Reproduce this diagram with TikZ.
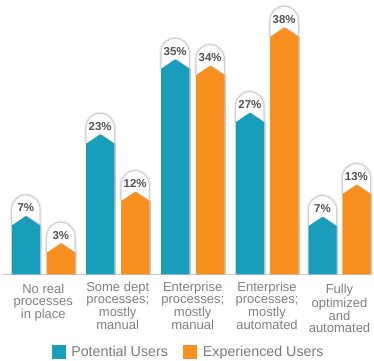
\documentclass[tikz,border=0pt]{standalone}
\usepackage{fontspec}
\setmainfont{Liberation Sans}
\definecolor{potential}{RGB}{24,158,187}
\definecolor{experienced}{RGB}{247,144,30}
\tikzset{
	catlabel/.style={anchor=north, align=center, inner sep=0pt, text=black!50, font=\fontsize{9.75}{8.75}\selectfont},
	pctlabel/.style={inner sep=0pt, text=black!68, font=\fontsize{8.6}{10}\selectfont\bfseries},
	legendtext/.style={anchor=base west, inner sep=0pt, text=black!52, font=\fontsize{10.7}{12}\selectfont},
	bubble/.style={fill=white, draw=black!18, line width=0.8pt},
}
\begin{document}
\begin{tikzpicture}[x=0.75pt,y=0.75pt]
	\useasboundingbox (0,0) rectangle (374,360);
	\draw[black!22, line width=0.75pt] (3,85.7) -- (372,85.7);
	\foreach \bx/\bh/\bv/\bc [count=\n] in {11.7/58.3/7/potential, 46.7/31/3/experienced, 86/140/23/potential, 121/82.6/12/experienced, 161/215/35/potential, 196/208.6/34/experienced, 235.7/161.6/27/potential, 270/247/38/experienced, 308.3/57.6/7/potential, 342.3/89.6/13/experienced}{
		\draw[black!7, line width=2.5pt] (\bx,85.7+\bh-9.5) -- (\bx,85.7+\bh+6.85) arc[start angle=180, end angle=0, radius=14.15] -- (\bx+28.3,85.7+\bh-9.5);
		\filldraw[bubble] (\bx,85.7+\bh-9.5) -- (\bx,85.7+\bh+6.85) arc[start angle=180, end angle=0, radius=14.15] -- (\bx+28.3,85.7+\bh-9.5) -- cycle;
		\fill[black!22] (\bx+1.5,85.7) -- ++(0,\bh-9.5) -- ++(14.15,9.5) -- ++(14.15,-9.5) -- ++(0,-\bh+9.5) -- cycle;
		\fill[\bc] (\bx,85.7) -- ++(0,\bh-9.5) -- ++(14.15,9.5) -- ++(14.15,-9.5) -- ++(0,-\bh+9.5) -- cycle;
		\node[pctlabel] (pct\n) at (\bx+14.15,85.7+\bh+8) {\bv\%};
	}
	\node[catlabel] (noreal) at (43.3,76) {No real\\processes\\in place};
	\node[catlabel] (somedept) at (117.7,78.3) {Some dept\\processes;\\mostly\\manual};
	\node[catlabel] (entmanual) at (192.7,78.3) {Enterprise\\processes;\\mostly\\manual};
	\node[catlabel] (entauto) at (267,78.3) {Enterprise\\processes;\\mostly\\automated};
	\node[catlabel] (fullauto) at (339.5,76) {Fully\\optimized\\and\\automated};
	\fill[potential] (52,0.7) rectangle (66,15);
	\node[legendtext] (potlegend) at (71,3.3) {Potential Users};
	\fill[experienced] (182.7,0.7) rectangle (196.7,15);
	\node[legendtext] (explegend) at (202.7,3.3) {Experienced Users};
\end{tikzpicture}
\end{document}
